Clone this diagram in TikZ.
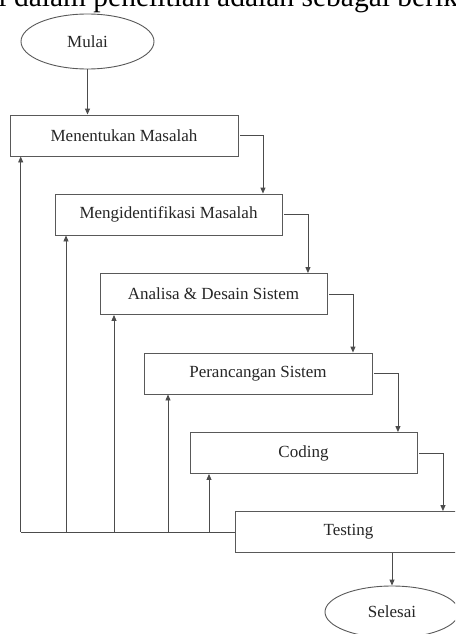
\documentclass[tikz,border=0pt]{standalone}
\usepackage{fontspec}
\setmainfont{Liberation Serif}
\usetikzlibrary{shapes.geometric,arrows.meta}
\begin{document}
\begin{tikzpicture}[x=1pt,y=-1pt,
  line width=0.9pt,
  proc/.style={draw=black!65,rectangle,minimum width=227pt,minimum height=41pt,inner sep=0pt,
    text=black!85,font=\fontsize{17}{20}\selectfont},
  term/.style={draw=black!65,ellipse,inner sep=0pt,text=black!85,font=\fontsize{17}{20}\selectfont},
  conn/.style={draw=black!70,-{Triangle[length=6pt,width=5pt]}},
  line/.style={draw=black!70}]
\useasboundingbox (0,0) rectangle (455,634);
\clip (0,0) rectangle (455,634);
\fill[white] (0,0) rectangle (455,634);
% cropped caption text
\node[anchor=base west,inner sep=0pt,font=\fontsize{29.5}{33}\selectfont] (cap) at (-2,7) {i dalam penelitian adalah sebagai berikut:};
% terminals
\node[term,minimum width=133pt,minimum height=55pt] (mulai) at (87.5,41.5) {Mulai};
\node[term,minimum width=134pt,minimum height=52pt] (selesai) at (392,612) {Selesai};
% process boxes
\node[proc,minimum width=228pt] (b1) at (124,135.5) {Menentukan Masalah};
\node[proc] (b2) at (168.5,214.5) {Mengidentifikasi Masalah};
\node[proc] (b3) at (213.5,294) {Analisa \& Desain Sistem};
\node[proc,minimum width=228pt] (b4) at (258,373.5) {Perancangan Sistem};
\node[proc] (b5) at (303.5,453) {Coding};
\node[proc] (b6) at (348.5,532) {Testing};
% forward flow
\draw[conn] (mulai.south) -- (mulai.south |- b1.north);
\coordinate (d2) at ([xshift=-19.5pt]b2.north east);
\coordinate (d3) at ([xshift=-19.5pt]b3.north east);
\coordinate (d4) at ([xshift=-19.5pt]b4.north east);
\coordinate (d5) at ([xshift=-19.5pt]b5.north east);
\coordinate (d6) at ([xshift=-19.5pt]b6.north east);
\draw[conn,shorten <=2pt] (b1.east) -| (d2);
\draw[conn,shorten <=2pt] (b2.east) -| (d3);
\draw[conn,shorten <=2pt] (b3.east) -| (d4);
\draw[conn,shorten <=2pt] (b4.east) -| (d5);
\draw[conn,shorten <=2pt] (b5.east) -| (d6);
\draw[conn] (selesai.north |- b6.south) -- (selesai.north);
% feedback lines
\coordinate (f1) at (20.7,156);
\coordinate (f2) at (66,235);
\coordinate (f3) at (114,314);
\coordinate (f4) at (168,394);
\coordinate (f5) at (209,473);
\draw[line] (b6.west) -- (f1 |- b6.west);
\draw[conn] (f1 |- b6.west) -- (f1 |- b1.south);
\draw[conn] (f2 |- b6.west) -- (f2 |- b2.south);
\draw[conn] (f3 |- b6.west) -- (f3 |- b3.south);
\draw[conn] (f4 |- b6.west) -- (f4 |- b4.south);
\draw[conn] (f5 |- b6.west) -- (f5 |- b5.south);
\end{tikzpicture}
\end{document}
